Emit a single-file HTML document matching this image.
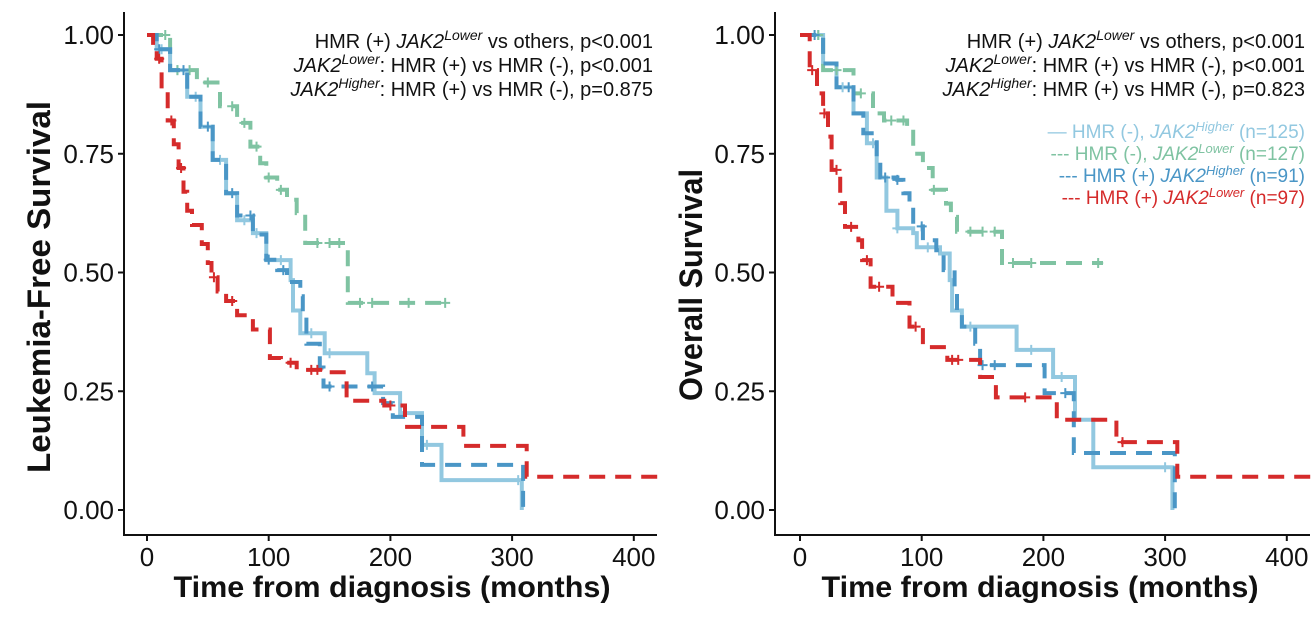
<!DOCTYPE html>
<html><head><meta charset="utf-8">
<style>
html,body{margin:0;padding:0;background:#fff;}
svg{display:block;font-family:"Liberation Sans",Arial,sans-serif;}
</style></head>
<body>
<svg id="chart" width="1313" height="631" viewBox="0 0 1313 631"></svg>
<script>
// ---------- DATA ----------
const xTicks = [0, 100, 200, 300, 400];
const yTicks = [0, 0.25, 0.5, 0.75, 1];
const yTickLabels = ["0.00", "0.25", "0.50", "0.75", "1.00"];
const seriesNames = ["HMR (-), JAK2 Higher", "HMR (-), JAK2 Lower", "HMR (+) JAK2 Higher", "HMR (+) JAK2 Lower"];
const seriesN = [125, 127, 91, 97];

// Leukemia-free survival
const lfsLightT = [0, 8, 19, 33, 44, 54, 65, 74, 87, 98, 118, 120, 126, 146, 181, 187, 208, 226, 242, 308];
const lfsLightS = [1, 0.97, 0.926, 0.87, 0.807, 0.737, 0.667, 0.61, 0.583, 0.526, 0.484, 0.42, 0.372, 0.33, 0.288, 0.246, 0.204, 0.137, 0.063, 0.0];
const lfsGreenT = [0, 19, 41, 60, 74, 85, 93, 98, 107, 115, 123, 130, 165, 249];
const lfsGreenS = [1, 0.926, 0.9, 0.85, 0.815, 0.765, 0.73, 0.7, 0.674, 0.653, 0.625, 0.562, 0.436, 0.436];
const lfsBlueT = [0, 8, 19, 33, 44, 54, 65, 74, 87, 98, 107, 115, 126, 128, 131, 142, 145, 194, 202, 226, 309];
const lfsBlueS = [1, 0.97, 0.926, 0.87, 0.807, 0.737, 0.667, 0.62, 0.58, 0.527, 0.505, 0.48, 0.45, 0.41, 0.35, 0.3, 0.26, 0.225, 0.196, 0.095, 0.0];
const lfsRedT = [0, 5, 8, 12, 17, 22, 26, 30, 33, 37, 45, 50, 53, 58, 65, 74, 87, 101, 110, 123, 150, 164, 195, 212, 260, 312, 420];
const lfsRedS = [1, 0.97, 0.95, 0.88, 0.82, 0.77, 0.72, 0.67, 0.63, 0.6, 0.56, 0.52, 0.49, 0.46, 0.44, 0.41, 0.38, 0.32, 0.31, 0.295, 0.29, 0.23, 0.22, 0.175, 0.135, 0.07, 0.07];

// Overall survival
const osLightT = [0, 19, 30, 44, 55, 63, 71, 80, 93, 96, 115, 123, 125, 133, 178, 208, 226, 241, 306];
const osLightS = [1, 0.94, 0.89, 0.835, 0.772, 0.7, 0.63, 0.593, 0.583, 0.553, 0.54, 0.484, 0.42, 0.386, 0.337, 0.28, 0.19, 0.09, 0.0];
const osGreenT = [0, 19, 44, 60, 69, 88, 93, 101, 109, 120, 124, 129, 166, 249];
const osGreenS = [1, 0.926, 0.877, 0.835, 0.82, 0.807, 0.75, 0.72, 0.674, 0.645, 0.617, 0.586, 0.52, 0.52];
const osBlueT = [0, 19, 30, 44, 52, 63, 66, 80, 85, 90, 93, 101, 112, 118, 127, 129, 133, 144, 148, 201, 225, 308];
const osBlueS = [1, 0.94, 0.89, 0.835, 0.793, 0.737, 0.7, 0.695, 0.667, 0.632, 0.597, 0.568, 0.547, 0.505, 0.463, 0.414, 0.386, 0.35, 0.305, 0.246, 0.12, 0.0];
const osRedT = [0, 8, 14, 19, 23, 26, 33, 37, 48, 51, 58, 76, 90, 101, 121, 148, 161, 211, 260, 310, 420];
const osRedS = [1, 0.926, 0.877, 0.835, 0.786, 0.716, 0.646, 0.596, 0.568, 0.526, 0.47, 0.436, 0.386, 0.343, 0.316, 0.28, 0.237, 0.19, 0.143, 0.07, 0.07];

// Censoring times
const lfsLightC = [12, 25, 40, 60, 80, 90, 110, 135, 150, 230, 305];
const lfsGreenC = [15, 25, 35, 50, 70, 80, 90, 100, 110, 140, 150, 158, 175, 185, 215, 245];
const lfsBlueC = [10, 30, 50, 70, 85, 100, 112, 150, 185];
const lfsRedC = [10, 20, 28, 55, 70, 118, 135, 140, 200];
const osLightC = [15, 35, 60, 80, 105, 140, 190, 215, 300];
const osGreenC = [15, 30, 50, 75, 85, 110, 140, 150, 160, 175, 190, 245];
const osBlueC = [12, 40, 70, 80, 100, 150, 160, 218];
const osRedC = [10, 20, 30, 42, 55, 65, 95, 125, 130, 185, 265];

// ---------- DRAW ----------
const NS = "http://www.w3.org/2000/svg";
const svg = document.getElementById("chart");
const COL = { light: "#92c8e0", green: "#7fc3a2", blue: "#4a96c6", red: "#d52b2b" };

function mk(tag, attrs, parent) {
  const e = document.createElementNS(NS, tag);
  for (const k in attrs) e.setAttribute(k, attrs[k]);
  (parent || svg).appendChild(e);
  return e;
}
function stepAt(T, S, t) { let s = S[0]; for (let i = 0; i < T.length; i++) { if (T[i] <= t) s = S[i]; } return s; }

function panel(opt) {
  const g = mk("g", {});
  
  
  const xS = t => opt.x0 + t * 1.217;
  const yS = s => 510 - s * 475;
  const ax = mk("path", { d: `M${opt.ax} 12 V535 H${opt.axEnd}`, fill: "none", stroke: "#111", "stroke-width": 2 }, g);
  
  
  yTicks.forEach((v, i) => {
    const y = yS(v);
    const tk = mk("line", { x1: opt.ax - 6, x2: opt.ax, y1: y, y2: y, stroke: "#111", "stroke-width": 2 }, g);
    
    
    const tl = mk("text", { x: opt.ax - 10, y: y + 9, "text-anchor": "end", "font-size": 26, fill: "#111" }, g);
    tl.textContent = yTickLabels[i];
    
    
  });
  xTicks.forEach(v => {
    const x = xS(v);
    const tk = mk("line", { x1: x, x2: x, y1: 535, y2: 541, stroke: "#111", "stroke-width": 2 }, g);
    
    
    const tl = mk("text", { x: x, y: 566, "text-anchor": "middle", "font-size": 26, fill: "#111" }, g);
    tl.textContent = String(v);
    
    
  });
  const xt = mk("text", { x: opt.xTitleX, y: 597, "text-anchor": "middle", "font-size": 30, "font-weight": "bold", fill: "#111", textLength: 437, lengthAdjust: "spacingAndGlyphs" }, g);
  xt.textContent = "Time from diagnosis (months)";
  
  
  const yt = mk("text", { x: 0, y: 0, transform: `translate(${opt.yTitleX},${opt.yTitleY}) rotate(-90)`, "text-anchor": "middle", "font-size": 32, "font-weight": "bold", fill: "#111", textLength: opt.yTitleLen, lengthAdjust: "spacingAndGlyphs" }, g);
  yt.textContent = opt.yTitle;
  
  

  opt.series.forEach(s => {
    let d = `M${xS(s.T[0])} ${yS(s.S[0])}`;
    for (let i = 1; i < s.T.length; i++) d += ` H${xS(s.T[i]).toFixed(1)} V${yS(s.S[i]).toFixed(1)}`;
    const p = mk("path", { d: d, fill: "none", stroke: s.c, "stroke-width": 4, "stroke-dasharray": s.dash ? "16 10" : "none" }, g);
    
    
    s.C.forEach(t => {
      const cx = xS(t), cy = yS(stepAt(s.T, s.S, t));
      const m = mk("path", { d: `M${cx - 5} ${cy} H${cx + 5} M${cx} ${cy - 5} V${cy + 5}`, stroke: s.c, "stroke-width": 2 }, g);
      
      
    });
  });

  // annotation: segments [text, style]; style "sup" raises, next segment lowers back
  const lines = [
    [["HMR (+) ", ""], ["JAK2", "i"], ["Lower", "sup"], [" vs others, " + opt.p[0], ""]],
    [["JAK2", "i"], ["Lower", "sup"], [": HMR (+) vs HMR (-), " + opt.p[1], ""]],
    [["JAK2", "i"], ["Higher", "sup"], [": HMR (+) vs HMR (-), " + opt.p[2], ""]]
  ];
  lines.forEach((ln, k) => {
    const t = mk("text", { x: opt.right, y: 48 + k * 24, "text-anchor": "end", "font-size": 20, fill: "#111" }, g);
    
    
    let raised = false;
    ln.forEach(([txt, st]) => {
      const ts = mk("tspan", {}, t);
      if (st === "i") ts.setAttribute("font-style", "italic");
      if (st === "sup") { ts.setAttribute("font-style", "italic"); ts.setAttribute("font-size", 14); ts.setAttribute("dy", -8); raised = true; }
      else if (raised) { ts.setAttribute("dy", 8); raised = false; }
      ts.textContent = txt;
    });
  });
}

panel({
  name: "lfs-panel", x0: 147, ax: 124, axEnd: 657, xTitleX: 392, yTitleX: 50, yTitleY: 287, yTitleLen: 372,
  yTitle: "Leukemia-Free Survival", right: 653, p: ["p<0.001", "p<0.001", "p=0.875"],
  series: [
    { name: "lfs-hmr-neg-jak2-higher", T: lfsLightT, S: lfsLightS, C: lfsLightC, c: COL.light, dash: false },
    { name: "lfs-hmr-neg-jak2-lower", T: lfsGreenT, S: lfsGreenS, C: lfsGreenC, c: COL.green, dash: true },
    { name: "lfs-hmr-pos-jak2-higher", T: lfsBlueT, S: lfsBlueS, C: lfsBlueC, c: COL.blue, dash: true },
    { name: "lfs-hmr-pos-jak2-lower", T: lfsRedT, S: lfsRedS, C: lfsRedC, c: COL.red, dash: true }
  ]
});
panel({
  name: "os-panel", x0: 800, ax: 775, axEnd: 1310, xTitleX: 1040, yTitleX: 702, yTitleY: 285, yTitleLen: 232,
  yTitle: "Overall Survival", right: 1305, p: ["p<0.001", "p<0.001", "p=0.823"],
  series: [
    { name: "os-hmr-neg-jak2-higher", T: osLightT, S: osLightS, C: osLightC, c: COL.light, dash: false },
    { name: "os-hmr-neg-jak2-lower", T: osGreenT, S: osGreenS, C: osGreenC, c: COL.green, dash: true },
    { name: "os-hmr-pos-jak2-higher", T: osBlueT, S: osBlueS, C: osBlueC, c: COL.blue, dash: true },
    { name: "os-hmr-pos-jak2-lower", T: osRedT, S: osRedS, C: osRedC, c: COL.red, dash: true }
  ]
});

// legend
const legCols = [COL.light, COL.green, COL.blue, COL.red];
const legPre = ["\u2014 HMR (-), ", "--- HMR (-), ", "--- HMR (+) ", "--- HMR (+) "];
const legSup = ["Higher", "Lower", "Higher", "Lower"];
const lg = mk("g", {});


seriesNames.forEach((nm, i) => {
  const t = mk("text", { x: 1305, y: 138 + i * 22, "text-anchor": "end", "font-size": 19, fill: legCols[i] }, lg);
  
  
  const a = mk("tspan", {}, t); a.textContent = legPre[i];
  const b = mk("tspan", { "font-style": "italic" }, t); b.textContent = "JAK2";
  const c = mk("tspan", { "font-style": "italic", "font-size": 13, dy: -7 }, t); c.textContent = legSup[i];
  const d = mk("tspan", { dy: 7 }, t); d.textContent = " (n=" + seriesN[i] + ")";
});
</script>
</body></html>
